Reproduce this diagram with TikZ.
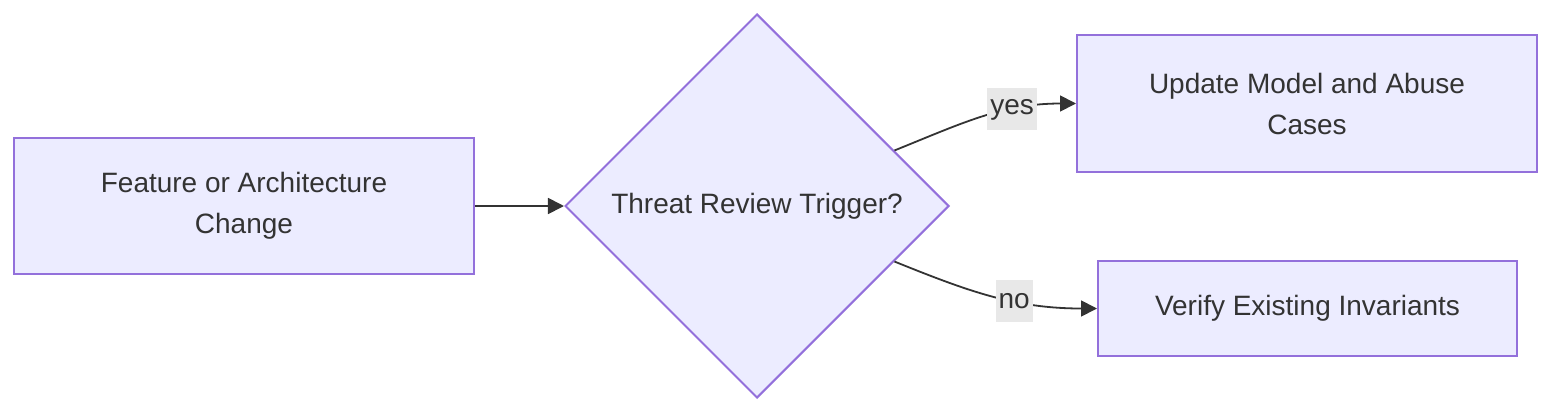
\documentclass[tikz,border=0pt]{standalone}
\usepackage{fontspec}
\setmainfont{Liberation Sans}
\usetikzlibrary{arrows.meta,shapes.geometric}
\definecolor{BoxFill}{HTML}{ECECFF}
\definecolor{BoxLine}{HTML}{9370DB}
\definecolor{TxtClr}{HTML}{333333}
\definecolor{LblFill}{HTML}{E8E8E8}

\begin{document}
\begin{tikzpicture}[x=0.5pt,y=-0.5pt,
  every node/.style={text=TxtClr,font=\fontsize{14}{20.5}\selectfont},
  procbox/.style={draw=BoxLine,fill=BoxFill,line width=1pt,align=center,inner sep=0pt},
  decision/.style={diamond,draw=BoxLine,fill=BoxFill,line width=1pt,inner sep=0pt,
    minimum width=192pt,minimum height=192pt,aspect=1},
  flow/.style={draw=TxtClr,line width=0.9pt,-{Triangle[length=8pt,width=8pt]}},
  edgelbl/.style={fill=LblFill,inner sep=1.5pt,minimum height=21pt}]
\useasboundingbox (0,0) rectangle (1568,418);

\node[procbox,minimum width=230pt,minimum height=68pt] (change) at (244,206)
  {Feature or Architecture\\Change};
\node[procbox,minimum width=230pt,minimum height=68.5pt] (update) at (1307,103.5)
  {Update Model and Abuse\\Cases};
\node[procbox,minimum width=209.5pt,minimum height=47.5pt] (verify) at (1307.5,308.5)
  {Verify Existing Invariants};
\node[decision] (trigger) at (757,206) {Threat Review Trigger?};

\draw[flow] (change) -- (trigger);
\draw[flow] (trigger.22) to[out=22,in=180]
  node[edgelbl,pos=0.67] {yes} (update.west);
\draw[flow] (trigger.-22) to[out=-22,in=180]
  node[edgelbl,pos=0.61] {no} (verify.west);

\end{tikzpicture}
\end{document}
